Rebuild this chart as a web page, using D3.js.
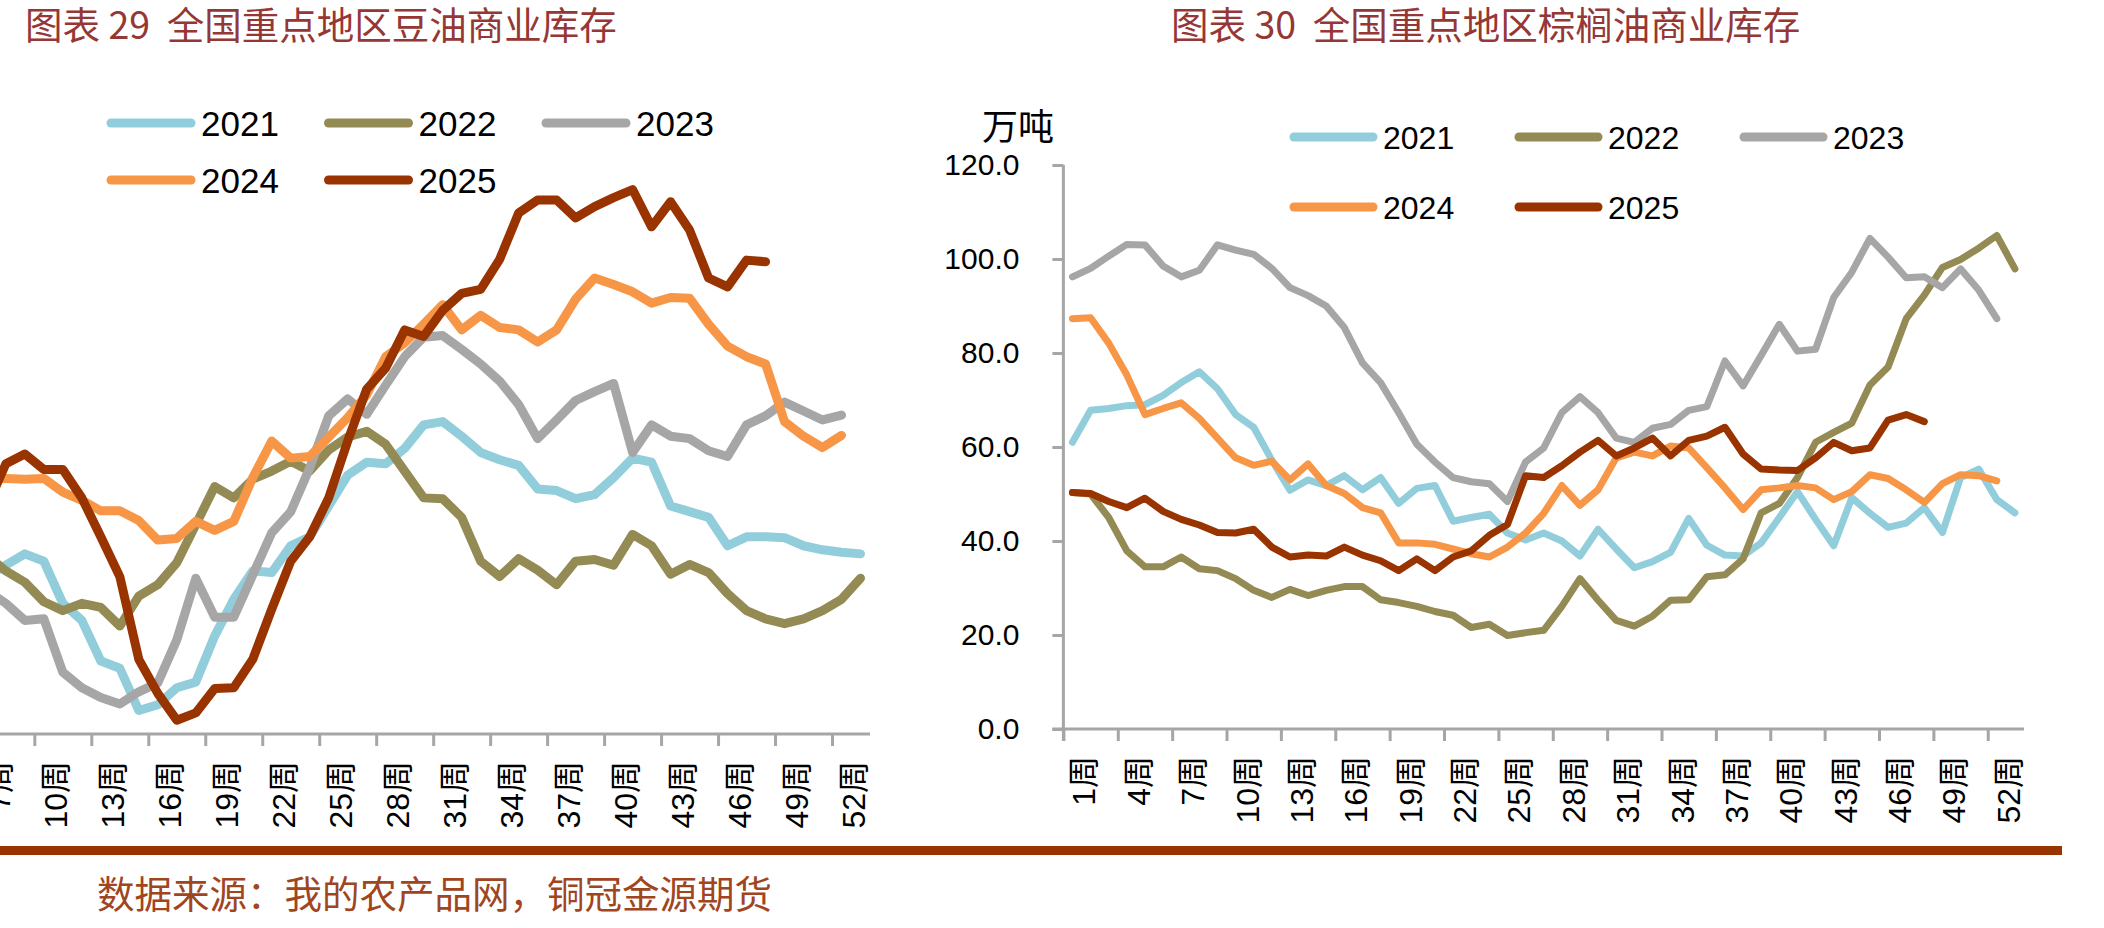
<!DOCTYPE html>
<html><head><meta charset="utf-8">
<script src="https://cdn.jsdelivr.net/npm/d3@7"></script>
<style>body{margin:0;background:#fff}svg{display:block}text{white-space:pre}</style>
</head><body><svg id="c" width="2104" height="928"></svg>
<script>
// ---------- data ----------
const weeks = [1,2,3,4,5,6,7,8,9,10,11,12,13,14,15,16,17,18,19,20,21,22,23,24,25,26,27,28,29,30,31,32,33,34,35,36,37,38,39,40,41,42,43,44,45,46,47,48,49,50,51,52,53];
const tickWeeks = [1,4,7,10,13,16,19,22,25,28,31,34,37,40,43,46,49,52];
const tickLabels = ["1周","4周","7周","10周","13周","16周","19周","22周","25周","28周","31周","34周","37周","40周","43周","46周","49周","52周"];
const years = ["2021","2022","2023","2024","2025"];
const colors = ["#92CDDC","#948A54","#A6A6A6","#F79646","#993300"];
const yTicksPalm = [0,20,40,60,80,100,120];

// 图表29 豆油 (weeks 1-6 are outside the visible picture)
const soy2021 = [null,null,null,null,null,null,79.4,80.8,82.2,81.3,76.1,74.0,69.0,68.1,62.9,63.6,65.7,66.4,72.1,76.6,80.1,79.9,83.2,84.3,88.1,91.9,93.5,93.3,95.2,98.1,98.5,96.7,94.7,93.8,93.1,90.2,90.0,89.0,89.5,91.6,94.0,93.5,88.1,87.4,86.7,83.2,84.3,84.3,84.2,83.2,82.7,82.4,82.2];
const soy2022 = [null,null,null,null,null,null,82.0,80.1,78.7,76.3,75.2,76.1,75.6,73.3,77.0,78.4,81.1,85.8,90.5,89.1,91.4,92.4,93.6,92.4,95.0,96.6,97.3,95.7,92.4,89.1,89.0,86.7,81.3,79.4,81.6,80.2,78.4,81.3,81.5,80.8,84.6,83.2,79.7,80.9,79.9,77.3,75.2,74.2,73.6,74.2,75.2,76.6,79.2];
const soy2023 = [null,null,null,null,null,null,77.7,76.1,74.0,74.2,67.6,65.7,64.5,63.7,65.2,66.3,71.6,79.2,74.4,74.4,79.6,84.8,87.4,92.8,99.2,101.3,99.4,103.0,106.5,108.9,109.1,107.4,105.6,103.5,100.6,96.4,98.7,101.1,102.2,103.2,94.7,98.1,96.7,96.4,94.9,94.2,98.1,99.2,100.9,99.8,98.7,99.3,null];
const soy2024 = [null,null,null,null,null,null,91.6,91.5,91.4,91.5,89.8,88.8,87.5,87.5,86.3,83.9,84.1,86.2,85.1,86.2,91.6,96.1,94.0,94.2,96.6,99.0,101.8,106.5,108.2,110.5,112.9,109.8,111.6,110.1,109.8,108.3,109.8,113.6,116.2,115.4,114.5,113.1,113.8,113.7,110.5,107.8,106.5,105.6,98.5,96.7,95.3,96.8,null];
const soy2025 = [null,null,null,null,null,null,88.0,93.3,94.5,92.6,92.6,89.1,84.3,79.4,69.2,65.0,61.7,62.6,65.6,65.7,69.2,75.4,81.3,84.3,89.1,96.1,102.5,105.1,109.8,109.0,112.2,114.3,114.8,118.5,124.2,125.8,125.8,123.6,125.0,126.1,127.1,122.5,125.6,122.1,116.2,115.1,118.4,118.2,null,null,null,null,null];

// 图表30 棕榈油
const palm2021 = [61.0,67.8,68.2,68.8,69.0,71.0,73.7,76.0,72.4,66.9,64.2,57.2,50.8,53.0,51.8,53.9,50.9,53.5,48.0,51.2,51.8,44.2,45.0,45.7,41.7,40.2,41.7,40.0,36.8,42.5,38.3,34.3,35.6,37.6,44.8,39.1,37.0,36.8,39.6,45.0,50.5,44.6,39.0,49.2,45.9,42.9,43.8,47.1,41.8,53.5,55.3,48.8,46.0];
const palm2022 = [50.3,50.0,45.0,37.9,34.5,34.5,36.6,34.1,33.7,32.0,29.5,28.0,29.7,28.4,29.5,30.3,30.3,27.5,26.9,26.1,25.0,24.2,21.6,22.3,19.9,20.5,21.0,26.1,32.0,27.4,23.1,21.9,24.0,27.4,27.5,32.4,32.8,36.2,46.0,48.0,53.5,61.0,63.1,65.1,73.2,77.0,87.3,92.3,98.2,99.9,102.3,105.0,97.9];
const palm2023 = [96.2,98.0,100.6,103.1,103.0,98.5,96.2,97.6,103.0,101.9,101.0,98.0,93.9,92.2,90.0,85.4,77.9,73.7,67.3,60.6,56.8,53.5,52.6,52.2,48.4,56.8,59.8,67.3,70.7,67.3,61.9,61.0,64.0,64.8,67.8,68.6,78.3,73.0,79.5,86.1,80.4,80.8,91.8,97.2,104.4,100.4,96.0,96.2,93.9,97.9,93.4,87.3,null];
const palm2024 = [87.3,87.5,82.1,75.3,66.9,68.2,69.4,66.1,61.9,57.7,56.1,57.0,53.0,56.4,51.8,50.1,47.1,46.0,39.6,39.6,39.3,38.3,37.3,36.6,38.7,41.7,45.9,51.8,47.6,50.9,57.7,58.9,58.1,60.2,59.8,55.6,51.3,46.7,50.9,51.3,51.8,51.3,48.8,50.5,54.1,53.3,50.9,48.2,52.2,54.1,53.9,52.8,null];
const palm2025 = [50.3,50.1,48.4,47.1,49.1,46.3,44.6,43.4,41.8,41.7,42.5,38.7,36.6,37.0,36.8,38.7,37.0,35.8,33.7,36.2,33.7,36.6,37.9,41.2,43.5,53.9,53.5,56.0,58.9,61.4,58.1,59.8,61.9,58.1,61.4,62.3,64.2,58.5,55.3,55.1,55.0,57.7,61.0,59.2,59.8,65.7,66.9,65.4,null,null,null,null,null];

// ---------- drawing ----------
const svg = d3.select("#c");
svg.append("rect").attr("width",2104).attr("height",928).attr("fill","#fff");
const AX = "#A6A6A6";
const latin = "'Liberation Sans', Arial, 'Noto Sans CJK SC', sans-serif";
const cjk = "'Noto Sans CJK SC', sans-serif";

function panel(cfg){
  const g = svg.append("g");
  const xb = d3.scaleBand().domain(weeks).range([cfg.x0, cfg.x1]).padding(0);
  const xl = d3.scaleLinear().domain([0, weeks.length]).range([cfg.x0, cfg.x1]);
  const y = d3.scaleLinear().domain(cfg.yDomain).range([cfg.yBottom, cfg.yTop]);
  const cx = w => xb(w) + xb.bandwidth()/2;

  // x axis (ticks between categories)
  const xa = g.append("g").attr("transform",`translate(0,${cfg.yBottom})`)
    .call(d3.axisBottom(xl).tickValues(d3.range(0, weeks.length-1, 3)).tickSize(12).tickFormat(""));
  xa.select(".domain").attr("stroke",AX).attr("stroke-width",3).attr("d",`M${cfg.x0 - (cfg.yAxis?11:0)},0H${cfg.x1}`);
  xa.selectAll(".tick line").attr("stroke",AX).attr("stroke-width",3);

  // x labels
  g.selectAll("text.xl").data(tickWeeks).enter().append("text")
    .attr("transform",(w,i)=>`translate(${cx(w)+12},${cfg.yBottom+27}) rotate(-90)`)
    .attr("text-anchor","end").attr("dominant-baseline","central")
    .attr("font-family",latin).attr("font-size",32).attr("fill","#000")
    .text((w,i)=>tickLabels[i]);

  if (cfg.yAxis){
    const ya = g.append("g").attr("transform",`translate(${cfg.x0},0)`)
      .call(d3.axisLeft(y).tickValues(cfg.yTicks).tickSize(11).tickPadding(33).tickFormat(d3.format(".1f")));
    ya.select(".domain").attr("stroke",AX).attr("stroke-width",3).attr("d",`M0,${cfg.yTop}V${cfg.yBottom+12}`);
    ya.selectAll(".tick line").attr("stroke",AX).attr("stroke-width",3);
    ya.selectAll(".tick text").attr("font-family",latin).attr("font-size",30).attr("fill","#000");
    g.append("text").attr("x",982).attr("y",140).attr("font-family",cjk).attr("font-size",36).attr("fill","#000").text("万吨");
  }

  const line = d3.line().defined(d=>d!=null).x((d,i)=>cx(weeks[i])).y(d=>y(d));
  cfg.series.forEach((s,i)=>{
    g.append("path").attr("d",line(s)).attr("fill","none").attr("stroke",colors[i])
      .attr("stroke-width",cfg.lw).attr("stroke-linejoin","round").attr("stroke-linecap","round");
  });

  // legend
  const lg = g.append("g");
  years.forEach((yr,i)=>{
    const col = i%3, row = Math.floor(i/3);
    const lx = cfg.legX + col*cfg.legDX, ly = cfg.legY + row*cfg.legDY;
    lg.append("line").attr("x1",lx+4).attr("x2",lx+cfg.legLen-4).attr("y1",ly).attr("y2",ly)
      .attr("stroke",colors[i]).attr("stroke-width",9).attr("stroke-linecap","round");
    lg.append("text").attr("x",lx+cfg.legLen+6).attr("y",ly).attr("dy","0.36em")
      .attr("font-family",latin).attr("font-size",cfg.legFs).attr("fill","#000").text(yr);
  });

  g.append("text").attr("x",cfg.titleX).attr("y",39).attr("font-family",cjk).attr("font-size",37.5)
    .attr("fill","#953735").text(cfg.title);
}

panel({x0:-136.6, x1:870, yBottom:734, yTop:166, yDomain:[60,130], yAxis:false,
  series:[soy2021,soy2022,soy2023,soy2024,soy2025], lw:9,
  legX:107, legY:123, legDX:217.5, legDY:57, legLen:88, legFs:35,
  titleX:25, title:"图表 29  全国重点地区豆油商业库存"});

panel({x0:1063.4, x1:2024, yBottom:729, yTop:165, yDomain:[0,120], yAxis:true, yTicks:yTicksPalm,
  series:[palm2021,palm2022,palm2023,palm2024,palm2025], lw:7,
  legX:1290, legY:137, legDX:225, legDY:70, legLen:87, legFs:32,
  titleX:1171, title:"图表 30  全国重点地区棕榈油商业库存"});

// footer
svg.append("rect").attr("x",0).attr("y",846).attr("width",2062).attr("height",9).attr("fill","#993300");
svg.append("text").attr("x",97).attr("y",908).attr("font-family",cjk).attr("font-size",37.5)
  .attr("fill","#A0451E").text("数据来源：我的农产品网，铜冠金源期货");
</script></body></html>
